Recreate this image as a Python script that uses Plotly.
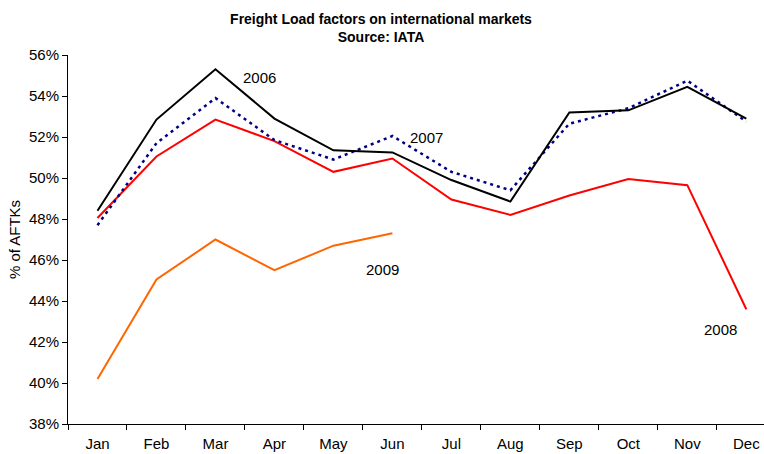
import plotly.graph_objects as go

months = ["Jan", "Feb", "Mar", "Apr", "May", "Jun", "Jul", "Aug", "Sep", "Oct", "Nov", "Dec"]
lf_2006 = [48.4, 52.85, 55.3, 52.9, 51.35, 51.25, 49.9, 48.85, 53.2, 53.3, 54.45, 52.9]
lf_2007 = [47.7, 51.7, 53.9, 51.85, 50.9, 52.05, 50.3, 49.4, 52.65, 53.4, 54.75, 52.75]
lf_2008 = [48.05, 51.05, 52.85, 51.8, 50.3, 50.95, 48.95, 48.2, 49.15, 49.95, 49.65, 43.6]
lf_2009 = [40.2, 45.05, 47.0, 45.5, 46.7, 47.3]

FONT = "Liberation Sans, Arial"
W, H = 764, 454

fig = go.Figure()
fig.add_trace(go.Scatter(x=months, y=lf_2009, mode="lines", line=dict(color="#FF6600", width=2), name="2009"))
fig.add_trace(go.Scatter(x=months, y=lf_2008, mode="lines", line=dict(color="#FF0000", width=2), name="2008"))
fig.add_trace(go.Scatter(x=months, y=lf_2007, mode="lines", line=dict(color="#000080", width=2.5, dash="3px,4px"), name="2007"))
fig.add_trace(go.Scatter(x=months, y=lf_2006, mode="lines", line=dict(color="#000000", width=2), name="2006"))

labels = [("2006", 2.75, 54.9), ("2007", 5.58, 52.0), ("2009", 4.84, 45.53), ("2008", 10.56, 42.6)]
for t, xx, yy in labels:
    fig.add_annotation(x=xx, y=yy, xref="x", yref="y", text=t, showarrow=False,
                       font=dict(family=FONT, size=15, color="#000000"))

fig.update_layout(
    width=W, height=H,
    margin=dict(l=68, r=0, t=55, b=30, autoexpand=False),
    plot_bgcolor="white", paper_bgcolor="white",
    showlegend=False,
    font=dict(family=FONT, size=15, color="#000000"),
    title=dict(text="<b>Freight Load factors on international markets</b><br><b>Source: IATA</b>",
               x=381 / W, xanchor="center", xref="container", y=1 - 24 / H, yanchor="top", yref="container",
               font=dict(family=FONT, size=14, color="#000000")),
    xaxis=dict(type="category", range=[-0.5, 11.3], showline=True, linecolor="black", linewidth=1,
               ticks="outside", tickson="boundaries", ticklen=5, tickcolor="black",
               showgrid=False, zeroline=False, tickfont=dict(size=15), automargin=False,
               ticklabelstandoff=6, ticklabeloverflow="allow"),
    yaxis=dict(range=[38, 56], dtick=2, tick0=38, ticksuffix="%", showline=True, linecolor="black",
               linewidth=1, ticks="outside", ticklen=5, tickcolor="black", showgrid=False, zeroline=False,
               title=dict(text="% of AFTKs", standoff=4, font=dict(size=15)), tickfont=dict(size=15),
               automargin=False),
)

fig.write_html(
    "out.html",
    config={"displayModeBar": False},
    post_script="document.body.style.margin='0';document.documentElement.style.overflow='hidden';",
)
